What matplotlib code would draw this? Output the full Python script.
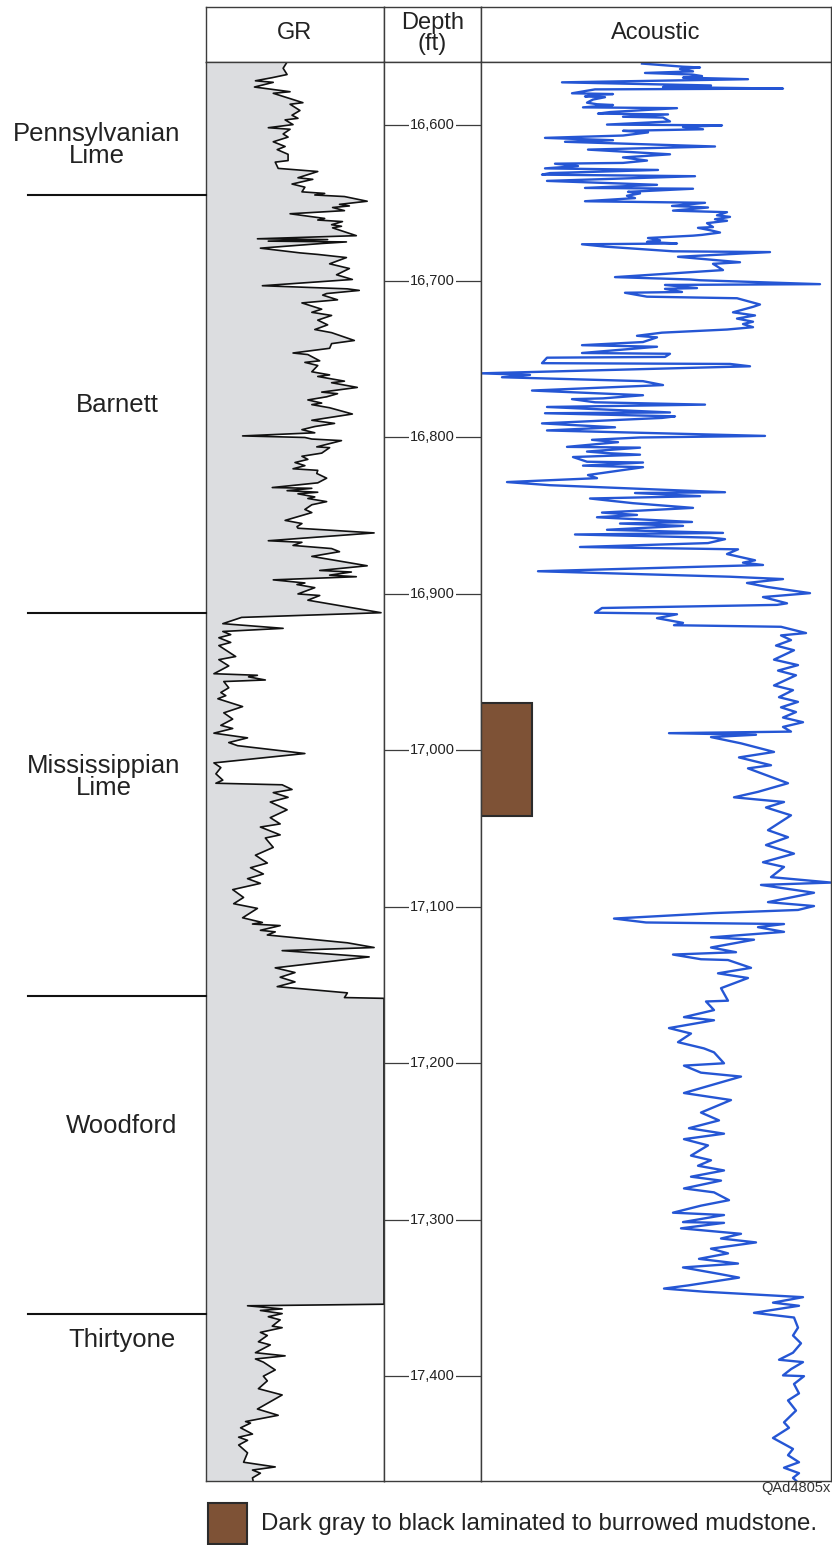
import numpy as np
import matplotlib.pyplot as plt
from matplotlib.patches import Rectangle

plt.rcParams['font.family'] = ['Liberation Sans', 'DejaVu Sans']

# gamma ray (API, track scale 0-180)
gr_depth = [16560, 16564, 16568, 16570, 16572, 16573, 16576, 16579, 16580, 16586,
            16587, 16591, 16594, 16596, 16597, 16600, 16602, 16603, 16606, 16608,
            16611, 16614, 16616, 16619, 16623, 16624, 16628, 16630, 16634, 16635,
            16638, 16640, 16643, 16644, 16645, 16646, 16649, 16651, 16652, 16653,
            16655, 16657, 16660, 16661, 16662, 16664, 16665, 16666, 16671, 16673,
            16673.5, 16674.5, 16675, 16676, 16679, 16682, 16683, 16685, 16689, 16692,
            16696, 16699, 16703, 16705, 16706, 16708, 16709, 16712, 16714, 16718,
            16720, 16722, 16725, 16728, 16731, 16733, 16738, 16740, 16743, 16746,
            16747, 16751, 16752, 16754, 16758, 16760, 16761, 16764, 16765, 16768,
            16771, 16772, 16774, 16776, 16778, 16779, 16781, 16785, 16789, 16791,
            16793, 16795, 16797, 16799, 16800, 16801, 16802, 16806, 16806.5, 16810,
            16812, 16814, 16816, 16818, 16820, 16821, 16823, 16826, 16829, 16832,
            16832.5, 16834, 16835, 16836, 16838, 16839, 16841, 16843, 16846, 16848,
            16853, 16855, 16857, 16858, 16861, 16866, 16867, 16869, 16871, 16873,
            16876, 16882, 16885, 16886, 16888, 16889, 16891, 16893, 16894, 16896,
            16900, 16901, 16904, 16912, 16915, 16919, 16922, 16924, 16926, 16928,
            16931, 16933, 16940, 16942, 16946, 16951, 16952, 16953, 16955, 16956,
            16960, 16963, 16965, 16967, 16972, 16976, 16980, 16984, 16986, 16989,
            16992, 16995, 16997, 17002, 17008, 17011, 17015, 17019, 17021, 17022,
            17025, 17027, 17030, 17033, 17038, 17043, 17047, 17049, 17054, 17056,
            17062, 17067, 17072, 17075, 17079, 17082, 17085, 17089, 17094, 17098,
            17101, 17107, 17110, 17111, 17112, 17115, 17116, 17118, 17123, 17126,
            17128, 17132, 17139, 17142, 17145, 17148, 17151, 17155, 17158, 17158.5,
            17354, 17355, 17357, 17358, 17360, 17362, 17364, 17368, 17369, 17372,
            17374, 17378, 17380, 17385, 17387, 17389, 17391, 17396, 17400, 17403,
            17408, 17412, 17421, 17425, 17429, 17430, 17433, 17437, 17439, 17441,
            17444, 17449, 17455, 17458, 17460, 17462, 17465, 17468]
gr_api = [82, 78, 82, 67, 50, 68, 49, 85, 68, 98,
          85, 95, 87, 93, 80, 88, 63, 85, 78, 83,
          68, 80, 72, 83, 83, 70, 73, 113, 93, 108,
          87, 100, 97, 120, 110, 140, 163, 135, 145, 128,
          140, 85, 120, 113, 138, 127, 137, 128, 152, 52,
          123, 63, 142, 117, 55, 95, 113, 142, 125, 145,
          132, 148, 57, 143, 155, 122, 118, 133, 97, 117,
          107, 127, 113, 123, 110, 127, 150, 127, 125, 88,
          103, 115, 100, 113, 107, 125, 113, 140, 127, 153,
          117, 133, 122, 103, 117, 107, 125, 148, 107, 130,
          110, 97, 110, 37, 100, 107, 137, 112, 125, 117,
          97, 103, 90, 100, 88, 113, 112, 122, 113, 67,
          107, 82, 113, 93, 110, 103, 122, 107, 100, 107,
          80, 97, 92, 93, 170, 63, 97, 88, 127, 135,
          107, 163, 115, 147, 125, 152, 68, 100, 92, 110,
          93, 115, 103, 177, 36, 17, 78, 17, 25, 13,
          25, 13, 30, 13, 23, 8, 52, 43, 60, 18,
          23, 15, 20, 12, 37, 18, 27, 15, 27, 8,
          42, 23, 32, 100, 8, 15, 10, 17, 10, 77,
          87, 68, 83, 65, 82, 65, 75, 55, 75, 60,
          68, 50, 62, 45, 58, 42, 55, 27, 38, 28,
          52, 37, 57, 47, 75, 55, 70, 62, 143, 170,
          77, 165, 70, 90, 75, 90, 72, 143, 140, 180,
          180, 42, 77, 55, 77, 63, 75, 67, 77, 55,
          62, 53, 65, 50, 80, 50, 58, 70, 58, 62,
          53, 77, 52, 73, 40, 45, 35, 47, 33, 42,
          33, 42, 38, 70, 47, 55, 47, 48]

# acoustic (us/ft, track scale 40-110)
ac_depth = [16561, 16563, 16563.5, 16564.5, 16566, 16567, 16568, 16569, 16570, 16571,
            16573, 16575, 16576, 16577, 16577.5, 16580, 16580.5, 16581, 16582, 16582.5,
            16584, 16586, 16587, 16587.5, 16589, 16589.5, 16592, 16593, 16593.5, 16595,
            16595.5, 16598, 16600, 16600.5, 16601.5, 16603, 16604, 16605, 16607, 16608.5,
            16610, 16611, 16614, 16616, 16619, 16621, 16623, 16624.5, 16625, 16626.5,
            16628, 16629, 16631, 16632, 16633, 16636, 16638.5, 16640.5, 16641, 16643,
            16644, 16645.5, 16647, 16649, 16650, 16652, 16653, 16655, 16656, 16658,
            16659, 16660.5, 16661.5, 16663, 16665.5, 16666, 16667.5, 16669, 16670.5, 16671,
            16672.5, 16674, 16675, 16676, 16676.5, 16678, 16681, 16681.5, 16684.5, 16688,
            16689, 16691, 16693, 16697.5, 16699, 16699.5, 16702, 16702.5, 16704.5, 16705,
            16707, 16707.5, 16710, 16711, 16715, 16716.5, 16720, 16722, 16724, 16726,
            16727.5, 16729.5, 16731, 16733, 16735, 16736, 16739, 16741, 16742, 16746,
            16746.5, 16748.5, 16749, 16752.5, 16753, 16754.5, 16759, 16760, 16761.5, 16764,
            16766.5, 16770, 16773, 16775, 16775.5, 16777.5, 16779, 16780.5, 16784, 16784.5,
            16786.5, 16787.5, 16791, 16793.5, 16795.5, 16799, 16800, 16801.5, 16803, 16806,
            16806.5, 16809, 16810, 16811, 16812.5, 16815.5, 16816, 16818, 16819, 16824,
            16826, 16828.5, 16830.5, 16835, 16835.5, 16837.5, 16839, 16842, 16845, 16848,
            16849.5, 16851, 16854, 16855, 16856.5, 16859, 16861, 16862, 16864, 16865,
            16867.5, 16870, 16871.5, 16874.5, 16878.5, 16880, 16881.5, 16885.5, 16889, 16890.5,
            16893, 16895.5, 16899.5, 16902, 16906, 16907, 16909, 16912, 16912.5, 16913,
            16915.5, 16918.5, 16920, 16921, 16925, 16926.5, 16929.5, 16933, 16936, 16942,
            16945.5, 16949, 16952, 16958.5, 16961.5, 16966, 16969, 16972.5, 16975.5, 16979,
            16982, 16985, 16988, 16989, 16990, 16991.5, 16995.5, 17001, 17004.5, 17009.5,
            17011.5, 17021, 17026.5, 17030, 17033, 17036.5, 17041.5, 17051, 17055.5, 17060.5,
            17066, 17071.5, 17074.5, 17081, 17084.5, 17086, 17091, 17097, 17099.5, 17102,
            17104, 17107.5, 17110, 17111, 17113, 17116, 17119.5, 17121, 17126, 17129,
            17130.5, 17133.5, 17134, 17139, 17142.5, 17145.5, 17152, 17160, 17160.5, 17166,
            17170.5, 17172.5, 17177.5, 17181, 17186.5, 17190.5, 17193, 17200, 17201.5, 17206,
            17208.5, 17219, 17223.5, 17231.5, 17236.5, 17241.5, 17245, 17248.5, 17252.5, 17259,
            17262, 17265.5, 17268.5, 17272.5, 17275, 17280, 17282.5, 17287.5, 17291, 17295.5,
            17297, 17301.5, 17302, 17305.5, 17309, 17312, 17314.5, 17318.5, 17321.5, 17325,
            17328, 17330.5, 17334.5, 17337, 17342, 17344, 17346, 17349.5, 17353, 17355,
            17359.5, 17362.5, 17369, 17374, 17379, 17385, 17389.5, 17391, 17395.5, 17399.5,
            17400, 17405, 17411, 17415.5, 17422, 17429.5, 17433, 17439.5, 17443, 17446.5,
            17450.5, 17455, 17458.5, 17462, 17465, 17468]
ac_val = [72.2, 80.4, 83.8, 79.8, 82.4, 72.8, 82.2, 84.2, 80.4, 93.4,
          56.2, 86, 76.4, 100.4, 62.8, 58.2, 66.4, 62.8, 60.8, 64.8,
          62.4, 61.2, 63.2, 66.4, 60.4, 79.2, 65.8, 63.4, 77.4, 68.4,
          76.4, 77.8, 65.2, 88.2, 80.4, 84.4, 68.4, 73.4, 68.4, 52.8,
          66.4, 56.8, 86.8, 61.4, 77.8, 68.4, 73.2, 68.4, 54.8, 59.4,
          52.8, 75.4, 53.8, 52.2, 82.8, 53.2, 75.2, 60.8, 82.4, 69.4,
          71.8, 69.2, 70.8, 60.8, 84.8, 78.2, 85.4, 78.4, 89.2, 87.2,
          89.8, 86.8, 89.2, 85.2, 86.4, 83.4, 85.8, 87.8, 84.2, 82.4,
          73.4, 75.8, 73.2, 79.2, 60.2, 64.8, 78.4, 97.8, 79.4, 91.8,
          86.4, 87.4, 88.4, 66.8, 81.8, 83.8, 107.8, 76.8, 83.2, 76.8,
          80.2, 68.8, 73.2, 91.2, 95.8, 94.4, 90.4, 94.8, 91.2, 94.4,
          92.4, 94.4, 89.2, 76.2, 71.2, 75.2, 72.4, 60.2, 75.2, 60.2,
          77.8, 76.8, 53.2, 52.2, 89.8, 93.8, 40, 49.8, 44.2, 72.4,
          76.4, 50.2, 72.4, 64.4, 58.2, 62.8, 84.8, 53.2, 77.8, 52.8,
          78.8, 76.2, 52.2, 66.8, 53.2, 96.8, 71.8, 62.2, 67.4, 57.2,
          71.8, 61.2, 65.2, 71.8, 58.4, 61.2, 72.4, 60.4, 72.4, 61.4,
          63.2, 45.2, 53.8, 88.8, 70.8, 83.8, 61.8, 70.4, 82.4, 64.2,
          71.2, 63.2, 82.2, 67.8, 80.4, 65.2, 88.4, 58.8, 85.8, 88.8,
          85.4, 59.8, 91.4, 89.2, 94.8, 92.4, 96.4, 51.4, 89.8, 100.4,
          93.2, 97.2, 105.8, 96.4, 101.2, 99.2, 64.2, 62.8, 75, 79.2,
          75.2, 80.4, 78.6, 100, 105, 100, 102, 99, 102.6, 98.6,
          103.4, 99.4, 103, 98.6, 102.4, 99.6, 103.4, 100, 103, 100.4,
          104.4, 100.4, 102, 77.6, 95, 86, 92, 98.6, 91.6, 98,
          93.4, 101.4, 95.4, 90.6, 100.6, 97, 102, 97.4, 101.4, 97,
          102.6, 96.4, 100.6, 98, 110, 96, 106.6, 97.4, 106.6, 103.4,
          86.6, 66.6, 73, 100.6, 95.4, 100.6, 86, 94.6, 86, 91,
          78.4, 84, 89.4, 94, 87.4, 93.4, 88, 89.4, 85, 86.6,
          80.6, 86.6, 77.6, 82, 79.4, 84.6, 86.6, 88.6, 80.6, 84,
          92, 80.6, 90, 84, 87.6, 81.6, 88.6, 80.6, 85.4, 82,
          86, 83.4, 88.6, 82, 88, 80.6, 86.6, 89.6, 84, 78.4,
          88.6, 80.4, 88.6, 80, 92, 88, 95, 86, 89.4, 83.6,
          91.4, 80.4, 87.4, 91.6, 81.4, 76.6, 84.6, 104.4, 98.4, 103.6,
          94.6, 102.6, 103.4, 102.4, 104, 102.4, 99.6, 104.4, 102, 100.4,
          104.6, 102.6, 103.6, 101.4, 103, 100.6, 101.6, 98.4, 100.4, 102.4,
          101.4, 103.6, 100.6, 103.6, 102.4, 103.4]

formation_names = ["Pennsylvanian\nLime", "Barnett", "Mississippian\nLime", "Woodford", "Thirtyone"]
formation_tops = [16645, 16912, 17157, 17360]
label_depths = [16613, 16779, 17017, 17240, 17377]
label_x = [0.47, 0.57, 0.505, 0.59, 0.59]
depth_ticks = [16600, 16700, 16800, 16900, 17000, 17100, 17200, 17300, 17400]
mudstone = (16970, 17042)
top_depth, base_depth = 16560, 17467

W, H = 832, 1545
fig = plt.figure(figsize=(W / 100, H / 100), dpi=100)


def box(x0, y0, x1, y1):
    return [x0 / W, 1 - y1 / H, (x1 - x0) / W, (y1 - y0) / H]


def frame(ax):
    ax.set_xticks([])
    ax.set_yticks([])
    for s in ax.spines.values():
        s.set_color('#3c3c3c')
        s.set_linewidth(1.0)


edge = '#3c3c3c'
# header row
for (x0, x1), title in zip([(206, 384), (384, 481), (481, 831)], ["GR", "Depth\n(ft)", "Acoustic"]):
    hax = fig.add_axes(box(x0, 7, x1, 62))
    frame(hax)
    hax.text(0.5, 0.52, title, ha='center', va='center', fontsize=17,
             linespacing=0.95, color='#222222', transform=hax.transAxes)

# GR track
ax_gr = fig.add_axes(box(206, 62, 384, 1481))
frame(ax_gr)
ax_gr.set_xlim(0, 180)
ax_gr.set_ylim(base_depth, top_depth)
ax_gr.fill_betweenx(gr_depth, 0, gr_api, color='#dcdde0', lw=0)
ax_gr.plot(gr_api, gr_depth, color='#111111', lw=1.2)

# depth track
ax_d = fig.add_axes(box(384, 62, 481, 1481))
frame(ax_d)
ax_d.set_xlim(0, 1)
ax_d.set_ylim(base_depth, top_depth)
for d in depth_ticks:
    ax_d.plot([0, 1], [d, d], color=edge, lw=0.9)
    ax_d.text(0.5, d, f"{d:,}", ha='center', va='center', fontsize=10.5, color='#222222',
              bbox=dict(fc='white', ec='none', pad=1.0))

# acoustic track
ax_ac = fig.add_axes(box(481, 62, 831, 1481))
frame(ax_ac)
ax_ac.set_xlim(40, 110)
ax_ac.set_ylim(base_depth, top_depth)
ax_ac.add_patch(Rectangle((0, mudstone[0]), 0.146, mudstone[1] - mudstone[0],
                          transform=ax_ac.get_yaxis_transform(),
                          fc='#7e5236', ec='#2b2b2b', lw=1.5, zorder=1))
ax_ac.plot(ac_val, ac_depth, color='#2556d4', lw=1.7, zorder=2)

# formation tops and names
ax_f = fig.add_axes(box(0, 62, 206, 1481))
ax_f.set_xlim(0, 1)
ax_f.set_ylim(base_depth, top_depth)
ax_f.axis('off')
for t in formation_tops:
    ax_f.plot([0.136, 1], [t, t], color='#111111', lw=1.5, clip_on=False)
for name, d, x in zip(formation_names, label_depths, label_x):
    ax_f.text(x, d, name, ha='center', va='center', fontsize=18.5, linespacing=0.88, color='#222222')

# legend and figure id
fig.text(831 / W, 1 - 1488 / H, "QAd4805x", ha='right', va='center', fontsize=10.5, color='#333333')
fig.add_artist(Rectangle((208 / W, 1 - 1544 / H), 39 / W, 41 / H, transform=fig.transFigure,
                         fc='#7e5236', ec='#2b2b2b', lw=1.5))
fig.text(261 / W, 1 - 1524 / H, "Dark gray to black laminated to burrowed mudstone.",
         ha='left', va='center', fontsize=17.3, color='#222222')

fig.savefig('out.png', dpi=100)
